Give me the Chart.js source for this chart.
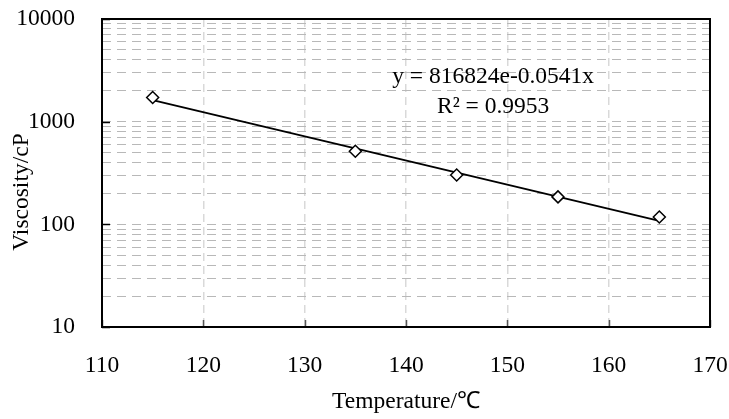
<!DOCTYPE html>
<html>
<head>
<meta charset="utf-8">
<script src="https://cdn.jsdelivr.net/npm/chart.js@4.4.0/dist/chart.umd.min.js"></script>
<style>
  html, body { margin: 0; padding: 0; background: #fff; }
</style>
</head>
<body>
<canvas id="chart" width="729" height="419"></canvas>
<script>
// measured points
const temperatures = [115, 135, 145, 155, 165];
const viscosities = [1720, 515, 302, 185, 118];

// exponential trendline end points (straight on log axis)
const trendX = [115, 165];
const trendY = [1621, 108];

const xTicks = [110, 120, 130, 140, 150, 160, 170];
const yMajor = [10, 100, 1000, 10000];

const equationText = 'y = 816824e-0.0541x';
const r2Text = 'R\u00B2 = 0.9953';
const xTitle = 'Temperature/\u2103';
const yTitle = 'Viscosity/cP';

const FONT = "'Liberation Serif', 'Times New Roman', serif";
const FSIZE = 23.5;

// all 1..9 multiples for the minor grid
let yAll = [];
yMajor.slice(0, -1).forEach(function (d) {
  for (let k = 1; k < 10; k++) yAll.push(d * k);
});
yAll.push(yMajor[yMajor.length - 1]);

const extras = {
  id: 'extras',
  afterDraw(chart) {
    const ctx = chart.ctx;
    const a = chart.chartArea;
    const xs = chart.scales.x, ys = chart.scales.y;
    ctx.save();

    // inward tick marks
    ctx.strokeStyle = '#000';
    ctx.lineWidth = 1.5;
    yMajor.forEach(function (v) {
      const py = Math.round(ys.getPixelForValue(v)) + 0.5;
      ctx.beginPath();
      ctx.moveTo(a.left, py);
      ctx.lineTo(a.left + 8, py);
      ctx.stroke();
    });
    ctx.strokeStyle = '#555';
    xTicks.forEach(function (v) {
      const px = Math.round(xs.getPixelForValue(v)) + 0.5;
      ctx.beginPath();
      ctx.moveTo(px, a.bottom);
      ctx.lineTo(px, a.bottom - 7);
      ctx.stroke();
    });

    // frame
    ctx.strokeStyle = '#000';
    ctx.lineWidth = 2;
    ctx.strokeRect(a.left, a.top, a.right - a.left, a.bottom - a.top);

    // trendline label
    ctx.fillStyle = '#000';
    ctx.font = FSIZE + 'px ' + FONT;
    ctx.textAlign = 'center';
    ctx.textBaseline = 'middle';
    const lx = xs.getPixelForValue(148.6);
    ctx.fillText(equationText, lx, ys.getPixelForValue(2720));
    ctx.fillText(r2Text, lx, ys.getPixelForValue(1390));

    // axis titles
    ctx.fillText(xTitle, 406, 402);
    ctx.translate(22, 192);
    ctx.rotate(-Math.PI / 2);
    ctx.fillText(yTitle, 0, 0);
    ctx.restore();
  }
};

new Chart(document.getElementById('chart'), {
  type: 'scatter',
  data: {
    datasets: [
      {
        label: 'trend',
        data: trendX.map(function (x, i) { return { x: x, y: trendY[i] }; }),
        showLine: true,
        borderColor: '#000',
        borderWidth: 2,
        pointRadius: 0,
        order: 2
      },
      {
        label: 'viscosity',
        data: temperatures.map(function (x, i) { return { x: x, y: viscosities[i] }; }),
        pointStyle: 'rectRot',
        pointRadius: 6,
        borderColor: '#000',
        backgroundColor: '#fff',
        borderWidth: 1.5,
        order: 1
      }
    ]
  },
  options: {
    responsive: false,
    animation: false,
    layout: { padding: { top: 19, right: 19, left: 0, bottom: 0 } },
    plugins: {
      legend: { display: false },
      tooltip: { enabled: false }
    },
    scales: {
      x: {
        type: 'linear',
        min: 110,
        max: 170,
        afterFit: function (scale) {
          scale.height = 92;
          scale.paddingLeft = 0;
          scale.paddingRight = 0;
        },
        afterBuildTicks: function (scale) {
          scale.ticks = xTicks.map(function (v) { return { value: v }; });
        },
        ticks: {
          autoSkip: false,
          maxRotation: 0,
          padding: 25,
          color: '#000',
          font: { family: FONT, size: FSIZE }
        },
        grid: {
          drawTicks: false,
          lineWidth: 1.5,
          color: function (c) {
            const v = c.tick && c.tick.value;
            return (v === 110 || v === 170) ? 'rgba(0,0,0,0)' : '#d9d9d9';
          }
        },
        border: { display: false, dash: [8, 5] }
      },
      y: {
        type: 'logarithmic',
        min: 10,
        max: 10000,
        afterFit: function (scale) {
          scale.width = 102;
          scale.paddingTop = 0;
          scale.paddingBottom = 0;
        },
        afterBuildTicks: function (scale) {
          scale.ticks = yAll.map(function (v) { return { value: v, major: yMajor.includes(v) }; });
        },
        ticks: {
          autoSkip: false,
          padding: 27,
          color: '#000',
          font: { family: FONT, size: FSIZE },
          callback: function (v) { return yMajor.includes(v) ? String(v) : ''; }
        },
        grid: {
          drawTicks: false,
          lineWidth: 1,
          color: function (c) {
            const v = c.tick && c.tick.value;
            return (v === 10 || v === 10000) ? 'rgba(0,0,0,0)' : '#b8b8b8';
          }
        },
        border: { display: false, dash: [9, 6] }
      }
    }
  },
  plugins: [extras]
});
</script>
</body>
</html>
